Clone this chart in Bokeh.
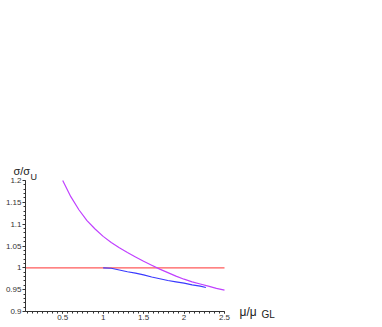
import numpy as np
from bokeh.plotting import figure
from bokeh.models import FixedTicker, Label
from bokeh.embed import file_html
from bokeh.resources import INLINE

# --- data ---
purple_x = [0.5, 0.6, 0.7, 0.8, 0.9, 1.0, 1.1, 1.2, 1.3, 1.4, 1.5, 1.6, 1.7, 1.8, 1.9, 2.0, 2.1, 2.2, 2.3, 2.4, 2.5]
purple_y = [1.200, 1.163, 1.133, 1.108, 1.089, 1.072, 1.058, 1.046, 1.035, 1.025, 1.015, 1.006, 0.997, 0.989,
            0.981, 0.974, 0.968, 0.963, 0.958, 0.953, 0.949]
blue_x = [1.0, 1.1, 1.2, 1.3, 1.4, 1.5, 1.6, 1.7, 1.8, 1.9, 2.0, 2.1, 2.2, 2.27]
blue_y = [1.000, 0.999, 0.995, 0.991, 0.988, 0.984, 0.979, 0.975, 0.971, 0.968, 0.965, 0.961, 0.958, 0.955]
red_x = [0.04, 2.5]
red_y = [1.0, 1.0]

x_ticks = [0.5, 1.0, 1.5, 2.0, 2.5]
x_tick_labels = ["0.5", "1", "1.5", "2", "2.5"]
y_ticks = [0.9, 0.95, 1.0, 1.05, 1.1, 1.15, 1.2]
y_tick_labels = ["0.9", "0.95", "1", "1.05", "1.1", "1.15", "1.2"]

AX_X0, AX_X1 = 0.04, 2.5      # extent of the drawn x axis
AX_Y0, AX_Y1 = 0.9, 1.2       # extent of the drawn y axis

# --- layout: frame covers the whole drawing area so that axis titles/labels are not clipped ---
LEFT = 0
FW, FH = 366, 322             # frame size in px
PX_X0, PX_X1 = 25, 224        # px positions of AX_X0 / AX_X1
PY_Y0, PY_Y1 = 311, 180       # px positions of AX_Y0 / AX_Y1
sx = (PX_X1 - PX_X0) / (AX_X1 - AX_X0)
sy = (PY_Y0 - PY_Y1) / (AX_Y1 - AX_Y0)
x_start = AX_X0 - (PX_X0 - LEFT) / sx
y_start = AX_Y0 - (FH - PY_Y0) / sy


def X(px):
    return x_start + (px - LEFT) / sx


def Y(py):
    return y_start + (FH - py) / sy


p = figure(frame_width=FW, frame_height=FH,
           x_range=(x_start, x_start + FW / sx), y_range=(y_start, y_start + FH / sy),
           output_backend="svg", toolbar_location=None,
           min_border_left=0, min_border_right=0, min_border_top=0, min_border_bottom=0)
p.outline_line_color = None
p.xgrid.grid_line_color = None
p.ygrid.grid_line_color = None
p.background_fill_color = "white"
p.border_fill_color = "white"

p.line(red_x, red_y, line_color="#ff5a5a", line_width=1.2)
p.line(purple_x, purple_y, line_color="#c040ff", line_width=1.2)
p.line(blue_x, blue_y, line_color="#3a3aff", line_width=1.2)

x_minor = [round(v, 4) for v in np.arange(0.0625, 2.5001, 0.0625)]
y_minor = [round(v, 4) for v in np.arange(0.9, 1.2001, 0.01)]
p.xaxis.ticker = FixedTicker(ticks=x_ticks, minor_ticks=x_minor)
p.yaxis.ticker = FixedTicker(ticks=y_ticks, minor_ticks=y_minor)
p.xaxis.major_label_overrides = {t: l for t, l in zip(x_ticks, x_tick_labels)}
p.yaxis.major_label_overrides = {t: l for t, l in zip(y_ticks, y_tick_labels)}
p.xaxis.fixed_location = AX_Y0
p.yaxis.fixed_location = AX_X0
p.xaxis.bounds = (AX_X0, AX_X1)
p.yaxis.bounds = (AX_Y0, AX_Y1)

for ax in (p.xaxis, p.yaxis):
    ax.axis_line_color = "#333333"
    ax.axis_line_width = 1
    ax.major_tick_line_color = "#333333"
    ax.minor_tick_line_color = "#333333"
    ax.major_tick_in = 0
    ax.minor_tick_in = 0
    ax.major_tick_out = 3
    ax.minor_tick_out = 2
    ax.major_label_text_font = "Liberation Sans"
    ax.major_label_text_font_size = "8px"
    ax.major_label_text_color = "#333333"
    ax.major_label_standoff = 1
p.xaxis.major_tick_out = 2

font = "Liberation Sans"
labels = [
    ("σ/σ", X(13), Y(170), "11px"),
    ("U", X(30), Y(176), "9px"),
    ("μ/μ", X(239), Y(311), "12px"),
    ("GL", X(261), Y(314), "10px"),
]
for txt, lx, ly, fs in labels:
    p.add_layout(Label(x=lx, y=ly, text=txt, text_font=font, text_font_size=fs,
                       text_color="#222222", text_align="left", text_baseline="alphabetic"))

open("out.html", "w").write(file_html(p, INLINE))
